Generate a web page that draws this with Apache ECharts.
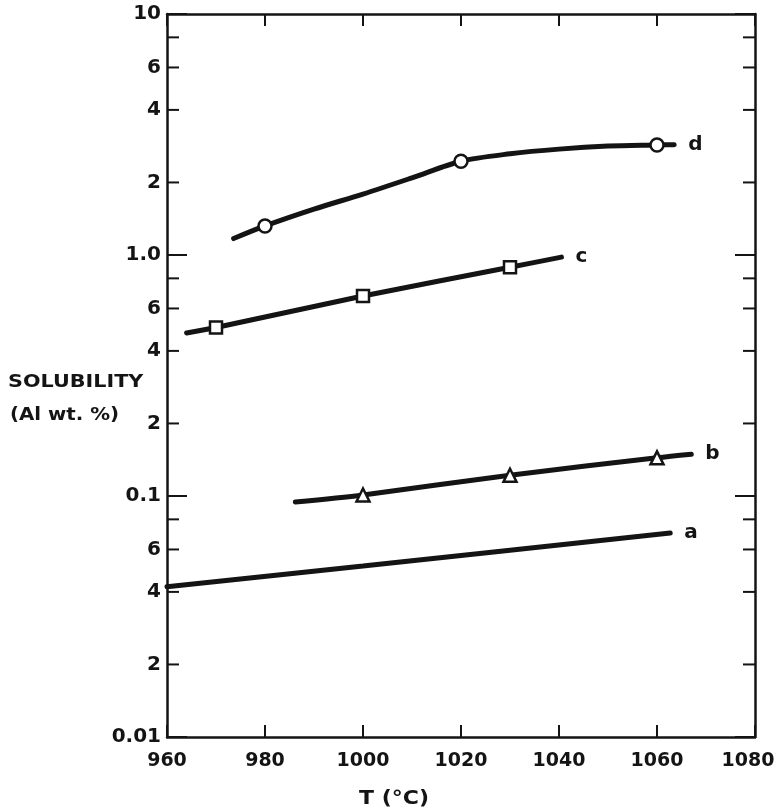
<!DOCTYPE html>
<html>
<head>
<meta charset="utf-8">
<script src="https://cdn.jsdelivr.net/npm/echarts@6/dist/echarts.min.js"></script>
<style>html,body{margin:0;padding:0;background:#fff;}#chart{width:780px;height:810px;}</style>
</head>
<body>
<div id="chart"></div>
<script>
// ---- data ----
const xTicks = [960, 980, 1000, 1020, 1040, 1060, 1080];
const yTickValues = [0.01, 0.02, 0.04, 0.06, 0.08, 0.1, 0.2, 0.4, 0.6, 0.8, 1, 2, 4, 6, 8, 10];
const yTickLabels = ['0.01', '2', '4', '6', '', '0.1', '2', '4', '6', '', '1.0', '2', '4', '6', '', '10'];
const yMajorTicks = [0.01, 0.1, 1, 10];

const curveA = [[960, 0.042], [1000, 0.0512], [1062.7, 0.0702]];
const curveB = [[986.2, 0.0944], [1000, 0.101], [1030, 0.122], [1060, 0.144], [1067, 0.149]];
const pointsB = [[1000, 0.101], [1030, 0.122], [1060, 0.144]];
const curveC = [[964, 0.475], [970, 0.5], [1000, 0.676], [1030, 0.89], [1040.5, 0.98]];
const pointsC = [[970, 0.5], [1000, 0.676], [1030, 0.89]];
const curveD = [[973.6, 1.17], [980, 1.32], [990, 1.55], [1000, 1.79], [1010, 2.09], [1020, 2.45], [1030, 2.63], [1040, 2.75], [1050, 2.83], [1060, 2.86], [1063.5, 2.87]];
const pointsD = [[980, 1.32], [1020, 2.45], [1060, 2.86]];

const xTitle = 'T (°C)';
const yTitle1 = 'SOLUBILITY';
const yTitle2 = '(Al wt. %)';

// ---- chart ----
const INK = '#141414';
const FONT = '"DejaVu Sans", "Liberation Sans", sans-serif';
const chart = echarts.init(document.getElementById('chart'), null, {renderer: 'canvas'});

function lineSeries(name, data) {
  return {
    type: 'line', name: name, data: data, showSymbol: false, symbol: 'none',
    smooth: 0.3, z: 3, silent: true, animation: false,
    lineStyle: {color: INK, width: 5, cap: 'round'},
    endLabel: {show: true, formatter: name, distance: 14, color: INK,
      fontFamily: FONT, fontWeight: 'bold', fontSize: 20}
  };
}
function pointSeries(data, symbol, size) {
  return {
    type: 'scatter', data: data, symbol: symbol, symbolSize: size, z: 5, silent: true, animation: false,
    itemStyle: {color: '#ffffff', opacity: 1, borderColor: INK, borderWidth: 2.5}
  };
}

const tickData = yTickValues.map((v, i) => [960, v, i]);

const option = {
  backgroundColor: '#fff',
  animation: false,
  textStyle: {fontFamily: FONT},
  grid: {left: 167, right: 25, top: 14, bottom: 73, containLabel: false, outerBoundsMode: 'none'},
  xAxis: [{
    type: 'value', min: 960, max: 1080, interval: 20, position: 'bottom',
    axisLine: {show: true, lineStyle: {color: INK, width: 2.5}},
    axisTick: {show: true, inside: true, length: 12, lineStyle: {color: INK, width: 2}},
    axisLabel: {show: true, color: INK, fontSize: 19, fontWeight: 'bold', fontFamily: FONT, margin: 15,
      formatter: v => !xTicks.includes(v) ? '' : (v === xTicks[xTicks.length - 1] ? '{last|' + v + '}' : String(v)),
      rich: {last: {color: INK, fontSize: 19, fontWeight: 'bold', fontFamily: FONT, padding: [0, 14, 0, 0]}}},
    splitLine: {show: false}
  }, {
    type: 'value', min: 960, max: 1080, interval: 20, position: 'top',
    axisLine: {show: true, lineStyle: {color: INK, width: 2.5}},
    axisTick: {show: true, inside: true, length: 12, lineStyle: {color: INK, width: 2}},
    axisLabel: {show: false}, splitLine: {show: false}
  }],
  yAxis: [{
    type: 'log', logBase: 10, min: 0.01, max: 10, position: 'left',
    axisLine: {show: true, lineStyle: {color: INK, width: 2.5}},
    axisTick: {show: false}, axisLabel: {show: false}, splitLine: {show: false}
  }, {
    type: 'log', logBase: 10, min: 0.01, max: 10, position: 'right',
    axisLine: {show: true, lineStyle: {color: INK, width: 2.5}},
    axisTick: {show: false}, axisLabel: {show: false}, splitLine: {show: false}
  }],
  graphic: [
    {type: 'text', x: 8, y: 373, scaleX: 1.15, style: {text: yTitle1, fill: INK, font: 'bold 18px ' + FONT}},
    {type: 'text', x: 10, y: 406, scaleX: 1.1, style: {text: yTitle2, fill: INK, font: 'bold 18px ' + FONT}},
    {type: 'text', x: 394, y: 789, scaleX: 1.1, style: {text: xTitle, fill: INK, align: 'center', font: 'bold 20px ' + FONT}}
  ],
  series: [
    {
      type: 'custom', data: tickData, xAxisIndex: 0, yAxisIndex: 0, silent: true, z: 6, clip: false,
      renderItem: function (params, api) {
        const v = api.value(1);
        const idx = api.value(2);
        const pL = api.coord([960, v]);
        const pR = api.coord([1080, v]);
        const len = yMajorTicks.includes(v) ? 20 : 12;
        const children = [
          {type: 'line', shape: {x1: pL[0], y1: pL[1], x2: pL[0] + len, y2: pL[1]}, style: {stroke: INK, lineWidth: 2}},
          {type: 'line', shape: {x1: pR[0] - len, y1: pR[1], x2: pR[0], y2: pR[1]}, style: {stroke: INK, lineWidth: 2}},
          {type: 'text', style: {text: yTickLabels[idx], x: pL[0] - 6, y: pL[1], align: 'right', verticalAlign: 'middle',
            fill: INK, font: 'bold 20px ' + FONT}}
        ];
        return {type: 'group', children: children};
      }
    },
    lineSeries('a', curveA),
    lineSeries('b', curveB),
    lineSeries('c', curveC),
    lineSeries('d', curveD),
    pointSeries(pointsB, 'triangle', 13),
    pointSeries(pointsC, 'rect', 12),
    pointSeries(pointsD, 'circle', 13)
  ]
};
chart.setOption(option);
</script>
</body>
</html>
